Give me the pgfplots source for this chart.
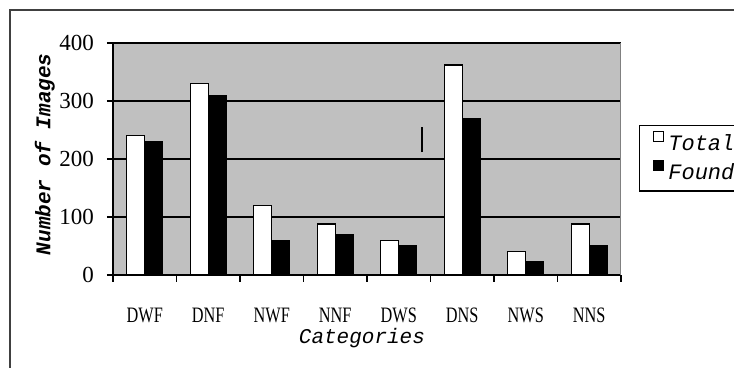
\documentclass[border=0pt]{standalone}
\usepackage{pgfplots}
\pgfplotsset{compat=1.18}
\usepackage{fontspec}
\setmainfont{Liberation Serif}
\newfontfamily\condfont[FakeStretch=0.74]{Liberation Serif}
\newfontfamily\monofont{Liberation Mono}
\definecolor{plotgray}{RGB}{192,192,192}
\begin{document}
\begin{tikzpicture}
\useasboundingbox (0pt,0pt) rectangle (367pt,-184pt);
\fill[white] (0pt,0pt) rectangle (367pt,-184pt);
\draw[line width=0.8pt, black!75] (5pt,-186pt) -- (5pt,-5pt) -- (369pt,-5pt);
\begin{axis}[
  at={(56.5pt,-137.5pt)}, anchor=south west,
  scale only axis, width=254pt, height=116pt,
  xmin=-0.5, xmax=7.5, ymin=0, ymax=400,
  ybar=0pt, bar width=9pt,
  axis background/.style={fill=plotgray},
  axis x line*=bottom, axis y line*=left,
  axis line style={black, line width=0.8pt},
  xtick={0,...,7},
  xticklabels={DWF,DNF,NWF,NNF,DWS,DNS,NWS,NNS},
  major x tick style={draw=none},
  minor xtick={-0.5,0.5,...,7.5},
  minor x tick style={black, line width=0.6pt},
  minor tick length=3.5pt,
  major tick length=3pt,
  tick align=outside,
  ytick={0,100,...,400},
  y tick style={black, line width=0.6pt},
  ymajorgrids, grid style={black, line width=0.6pt},
  /pgf/number format/assume math mode=true,
  yticklabel style={font=\fontsize{11.5}{12}\selectfont, xshift=-3pt},
  xticklabel style={font=\condfont\fontsize{11}{12}\selectfont, yshift=-10pt},
  xlabel={Categories},
  xlabel style={font=\monofont\itshape\fontsize{10.5}{12}\selectfont, at={(axis description cs:0.49,-0.27)}, anchor=center},
  ylabel={Number of Images},
  ylabel style={font=\monofont\bfseries\itshape\fontsize{10.5}{12}\selectfont, at={(axis description cs:-0.134,0.52)}, anchor=center},
  legend style={at={(axis description cs:1.035,0.504)}, anchor=west, draw=black, line width=0.6pt, fill=white,
    font=\monofont\itshape\fontsize{11}{13}\selectfont, inner xsep=7pt, inner ysep=2.5pt, row sep=1pt,
    /tikz/every even column/.append style={column sep=1.5pt}},
  legend cell align=left,
  legend image code/.code={\draw[#1, draw=black, line width=0.5pt] (0pt,1pt) rectangle (5pt,6pt);},
]
\addplot[fill=white, draw=black, line width=0.6pt] coordinates {(0,240) (1,330) (2,120) (3,88) (4,60) (5,362) (6,40) (7,88)};
\addplot[fill=black, draw=black, line width=0.6pt] coordinates {(0,230) (1,310) (2,60) (3,70) (4,50) (5,270) (6,23) (7,50)};
\legend{\makebox[40pt][l]{Total},\makebox[40pt][l]{Found}}
\draw[gray, line width=0.6pt] (rel axis cs:1,0) -- (rel axis cs:1,1);
\draw[black, line width=0.6pt] (axis cs:4.366,212) -- (axis cs:4.366,255);
\end{axis}
\end{tikzpicture}
\end{document}
